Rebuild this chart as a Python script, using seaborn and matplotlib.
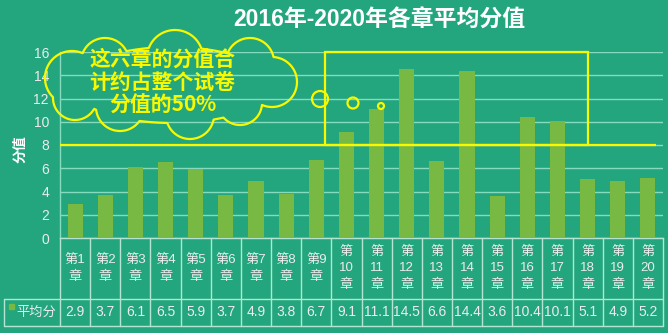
import numpy as np
import pandas as pd
import matplotlib
matplotlib.use("Agg")
import matplotlib.pyplot as plt
import seaborn as sns
from matplotlib.patches import Rectangle, Circle

# ---- data ----
chapters = [f"第{i}章" for i in range(1, 21)]
avg_scores = [2.9, 3.7, 6.1, 6.5, 5.9, 3.7, 4.9, 3.8, 6.7, 9.1,
              11.1, 14.5, 6.6, 14.4, 3.6, 10.4, 10.1, 5.1, 4.9, 5.2]
y_ticks = [0, 2, 4, 6, 8, 10, 12, 14, 16]
title = "2016年-2020年各章平均分值"
y_label = "分值"
row_name = "平均分"
callout = "这六章的分值合\n计约占整个试卷\n分值的50%"
threshold = 8
box_x = (8.3, 17.0)   # highlighted chapter span (category units)

# ---- style ----
BG = "#23a67e"
BAR = "#78b943"
GRID = "#84dbbd"
TABLE = "#b4e4d2"
YELLOW = "#f8f800"
TXT = "#ececec"

sns.set_theme(style="white")
plt.rcParams["font.family"] = ["Liberation Sans", "Noto Sans CJK SC"]

W, H = 668, 333
fig = plt.figure(figsize=(W / 100, H / 100), dpi=100, facecolor=BG)
ax_l, ax_r, ax_t, ax_b = 60, 663, 52, 238
ax = fig.add_axes([ax_l / W, 1 - ax_b / H, (ax_r - ax_l) / W, (ax_b - ax_t) / H])
ax.set_facecolor(BG)

df = pd.DataFrame({"章": chapters, "平均分": avg_scores})
sns.barplot(data=df, x="章", y="平均分", color=BAR, width=0.5,
            saturation=1, linewidth=0, edgecolor=BAR, ax=ax, zorder=3)

ax.set_xlim(-0.5, len(chapters) - 0.5)
ax.set_ylim(y_ticks[0], y_ticks[-1])
ax.set_yticks(y_ticks)
ax.set_xticks([])
ax.set_xlabel("")
ax.set_ylabel("")
ax.yaxis.grid(True, color=GRID, lw=1)
ax.set_axisbelow(True)
ax.tick_params(axis="y", length=0, pad=8, labelsize=10, labelcolor=TXT)
for s in ("top", "right"):
    ax.spines[s].set_visible(False)
ax.spines["left"].set_color(GRID)
ax.spines["bottom"].set_color(TABLE)
for s in ("left", "bottom"):
    ax.spines[s].set_linewidth(1)

ax.text(-0.066, 0.48, y_label, transform=ax.transAxes, rotation=90,
        ha="center", va="center", color="white", fontsize=10,
        fontweight="bold")

# threshold line and highlight box
n = len(chapters)
ax.plot([-0.5, n - 0.73], [threshold, threshold], color=YELLOW, lw=1.6,
        zorder=5, clip_on=False, solid_capstyle="butt")
ax.add_patch(Rectangle((box_x[0], threshold), box_x[1] - box_x[0],
                       y_ticks[-1] - threshold, fill=False, ec=YELLOW,
                       lw=1.6, zorder=5, clip_on=False))

# ---- data table under the axis ----
xt = ax.get_xaxis_transform()
row1_bot = (ax_b - 299) / (ax_b - ax_t)
row2_bot = (ax_b - 326) / (ax_b - ax_t)
left_cell = (4 - ax_l) / (ax_r - ax_l)

for i in range(n + 1):
    ax.plot([i - 0.5, i - 0.5], [0, row2_bot], transform=xt, color=TABLE,
            lw=1, clip_on=False)
for yy in (row1_bot, row2_bot):
    ax.plot([left_cell, 1], [yy, yy], transform=ax.transAxes, color=TABLE,
            lw=1, clip_on=False)
ax.plot([left_cell, left_cell], [row1_bot, row2_bot], transform=ax.transAxes,
        color=TABLE, lw=1, clip_on=False)

for i, (ch, v) in enumerate(zip(chapters, avg_scores)):
    num = ch[1:-1]
    lab = f"第{num}\n章" if len(num) == 1 else f"第\n{num}\n章"
    ax.text(i, row1_bot / 2, lab, transform=xt, ha="center", va="center",
            color=TXT, fontsize=9.5, linespacing=1.45)
    ax.text(i, (row1_bot + row2_bot) / 2, f"{v}", transform=xt,
            ha="center", va="center", color=TXT, fontsize=10)

# ---- overlay in pixel units for the callout ----
ov = fig.add_axes([0, 0, 1, 1], zorder=10)
ov.set_xlim(0, W)
ov.set_ylim(H, 0)
ov.axis("off")

ov.text(36, 313, row_name, ha="center", va="center", color=TXT,
        fontsize=9.5)
ov.add_patch(Rectangle((9, 304), 5, 5, color=BAR))

# cloud outline: boundary of a union of round lobes
lobes = [(72, 78, 27), (105, 62, 24), (175, 58, 28), (250, 62, 24),
         (272, 82, 25), (240, 103, 22), (190, 115, 24), (120, 107, 24),
         (75, 98, 22)]
gx, gy = np.meshgrid(np.linspace(30, 320, 700), np.linspace(15, 155, 340))
field = np.full(gx.shape, -1e9)
for cx, cy, r in lobes:
    field = np.maximum(field, r - np.hypot(gx - cx, gy - cy))
inner = 1 - ((gx - 172) / 100) ** 2 - ((gy - 85) / 38) ** 2
field = np.maximum(field, inner * 30)
ov.contour(gx, gy, field, levels=[0], colors=YELLOW, linewidths=1.6)

for cx, cy, r in [(320, 99, 8), (353, 103, 5.5), (381, 106, 3)]:
    ov.add_patch(Circle((cx, cy), r, fill=False, ec=YELLOW, lw=1.6))

ov.text(162.5, 82, callout, ha="center", va="center", color=YELLOW,
        fontsize=15, fontweight="bold", linespacing=1.12,
        family=["Noto Sans CJK SC", "DejaVu Sans"])

fig.text(379 / W, 1 - 20 / H, title, ha="center", va="center",
         color="white", fontsize=16.5, fontweight="bold")

fig.savefig("out.png", dpi=100, facecolor=BG)
